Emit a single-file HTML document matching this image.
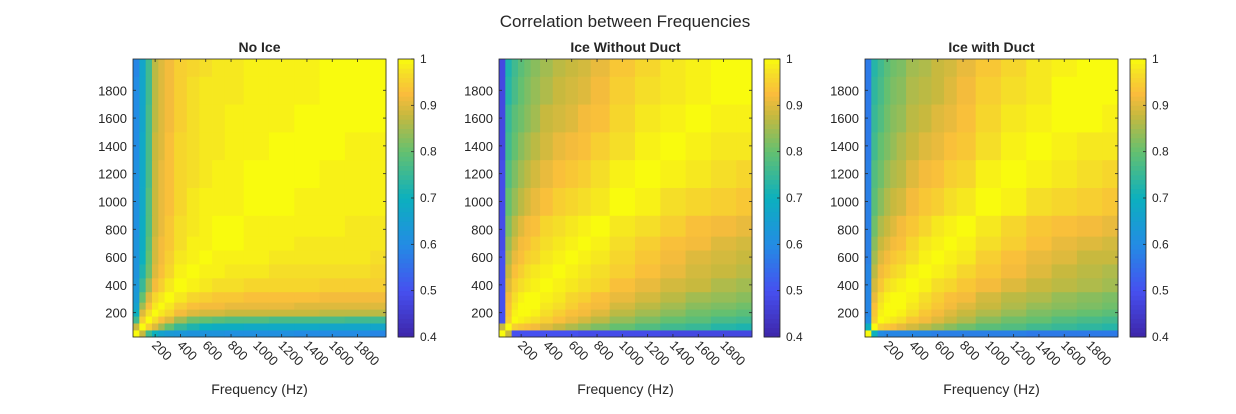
<!DOCTYPE html>
<html><head><meta charset="utf-8"><style>
body{margin:0;background:#fff;}
svg text{font-family:"Liberation Sans","DejaVu Sans",sans-serif;fill:#262626;}
</style></head><body>
<svg id="chart" width="1236" height="409" xmlns="http://www.w3.org/2000/svg">
<rect width="1236" height="409" fill="#fff"/>
<text x="625" y="27" font-size="17" text-anchor="middle">Correlation between Frequencies</text>
</svg>
<script>
// frequency bins (Hz)
const freqs = [50,100,150,200,250,300,400,500,600,700,800,1000,1200,1400,1600,1800,2000];
const xTicks = [200,400,600,800,1000,1200,1400,1600,1800];
const yTicks = [200,400,600,800,1000,1200,1400,1600,1800];
const cbTicks = [0.4,0.5,0.6,0.7,0.8,0.9,1];
const panelTitles = ["No Ice","Ice Without Duct","Ice with Duct"];
// lower-triangle correlation (x100), row i = freq i, cols 0..i
const noIce = [
[100],
[88,100],
[76,95,100],
[70,90,97,100],
[66,85,93,98,100],
[64,80,90,96,98,100],
[63,75,85,92,95,98,100],
[62,72,81,90,93,96,99,100],
[62,70,80,89,92,95,98,99,100],
[62,69,79,89,92,94,97,99,99,100],
[61,69,78,88,91,94,97,98,99,100,100],
[61,68,78,88,91,93,96,98,99,99,99,100],
[61,68,77,88,91,93,96,97,98,99,99,100,100],
[60,68,77,88,90,93,96,97,98,98,99,99,100,100],
[60,67,77,87,90,92,95,97,98,98,99,99,99,100,100],
[60,67,76,87,90,92,95,97,98,98,98,99,99,99,100,100],
[59,67,76,87,90,92,95,96,97,98,98,99,99,99,100,100,100]];
const iceNoDuct = [
[100],
[88,100],
[50,95,100],
[50,94,99,100],
[50,93,98,100,100],
[50,92,97,99,100,100],
[50,90,95,97,98,99,100],
[50,88,93,95,97,98,99,100],
[50,86,91,93,95,96,98,99,100],
[49,84,89,92,93,95,97,98,99,100],
[49,82,87,90,92,93,96,97,98,99,100],
[49,80,84,87,89,91,93,95,96,97,98,100],
[49,78,82,85,87,89,91,93,94,95,97,99,100],
[48,76,80,83,85,87,89,91,92,93,95,97,99,100],
[48,75,79,81,83,85,88,89,90,92,93,96,98,99,100],
[48,73,77,80,82,84,86,88,89,90,92,95,97,98,99,100],
[48,72,76,79,81,83,85,87,88,89,91,94,96,98,99,100,100]];
const iceDuct = [
[100],
[70,100],
[60,95,100],
[59,94,99,100],
[59,93,98,100,100],
[59,91,97,99,100,100],
[59,89,94,97,98,99,100],
[59,87,92,94,96,97,99,100],
[58,85,90,92,94,95,97,99,100],
[58,83,88,90,92,93,96,98,99,100],
[58,81,86,88,90,92,94,96,98,99,100],
[58,79,83,86,88,89,92,94,95,97,98,100],
[58,78,81,84,86,87,90,92,93,95,96,99,100],
[57,76,80,82,84,86,88,90,91,93,94,97,99,100],
[57,75,78,81,83,84,87,88,90,91,93,96,98,99,100],
[57,74,77,80,82,83,86,87,88,90,92,95,97,98,100,100],
[57,73,76,79,81,82,85,86,88,89,91,94,96,98,99,100,100]];
const panels = [noIce, iceNoDuct, iceDuct];

const NS="http://www.w3.org/2000/svg";
const svg=document.getElementById('chart');
function el(tag,attrs,parent){const e=document.createElementNS(NS,tag);for(const k in attrs)e.setAttribute(k,attrs[k]);(parent||svg).appendChild(e);return e;}
const stops=[[0,[62,38,168]],[0.167,[70,80,240]],[0.333,[35,140,228]],[0.5,[12,176,190]],[0.667,[100,192,112]],[0.8,[200,185,62]],[0.875,[250,188,60]],[0.95,[245,222,40]],[1,[249,251,14]]];
function parula(v){let t=(v-0.4)/0.6;t=Math.max(0,Math.min(1,t));
 for(let i=1;i<stops.length;i++){if(t<=stops[i][0]){const a=stops[i-1],b=stops[i];const u=(t-a[0])/(b[0]-a[0]);
 const c=a[1].map((x,k)=>Math.round(x+(b[1][k]-x)*u));return `rgb(${c[0]},${c[1]},${c[2]})`;}}return 'rgb(249,251,14)';}
const lefts=[133,499,865], W=253, TOP=59, H=278, FMIN=25, FMAX=2025;
const edges=[FMIN];for(let i=1;i<freqs.length;i++)edges.push((freqs[i-1]+freqs[i])/2);edges.push(FMAX);
function val(M,i,j){return (i>=j?M[i][j]:M[j][i])/100;}
panels.forEach((M,p)=>{
 const L=lefts[p];
 const sx=f=>L+(f-FMIN)/(FMAX-FMIN)*W;
 const sy=f=>TOP+H-(f-FMIN)/(FMAX-FMIN)*H;
 const g=el('g',{});
 
 
 for(let i=0;i<freqs.length;i++)for(let j=0;j<freqs.length;j++){
  const x0=sx(edges[j]),x1=sx(edges[j+1]),y0=sy(edges[i+1]),y1=sy(edges[i]);
  const r=el('rect',{x:x0,y:y0,width:x1-x0+0.4,height:y1-y0+0.4,fill:parula(val(M,i,j))},g);
  
  
 }
 const fr=el('rect',{x:L,y:TOP,width:W,height:H,fill:'none',stroke:'#262626','stroke-width':0.8});
 
 
 xTicks.forEach(t=>{const x=sx(t);
  el('line',{x1:x,x2:x,y1:TOP+H,y2:TOP+H-3,stroke:'#262626','stroke-width':0.8});
  el('line',{x1:x,x2:x,y1:TOP,y2:TOP+3,stroke:'#262626','stroke-width':0.8});
  const tx=el('text',{x:x-4,y:TOP+H+9,'font-size':13,transform:`rotate(45 ${x-4} ${TOP+H+9})`});
  tx.textContent=t;
  
  
 });
 yTicks.forEach(t=>{const y=sy(t);
  el('line',{x1:L,x2:L+3,y1:y,y2:y,stroke:'#262626','stroke-width':0.8});
  el('line',{x1:L+W,x2:L+W-3,y1:y,y2:y,stroke:'#262626','stroke-width':0.8});
  const tx=el('text',{x:L-6,y:y+5,'font-size':13,'text-anchor':'end'});
  tx.textContent=t;
  
  
 });
 const ti=el('text',{x:L+W/2,y:52,'font-size':14,'font-weight':'bold','text-anchor':'middle'});
 ti.textContent=panelTitles[p];
 
 
 const xl=el('text',{x:L+W/2,y:394,'font-size':14,'text-anchor':'middle'});
 xl.textContent='Frequency (Hz)';
 
 
 const cx=L+W+12, cw=16;
 const cb=el('g',{});
 
 
 const N=60;
 for(let k=0;k<N;k++){const v0=0.4+0.6*k/N;
  el('rect',{x:cx,y:TOP+H-(k+1)*H/N,width:cw,height:H/N+0.5,fill:parula(v0+0.3/N)},cb);}
 el('rect',{x:cx,y:TOP,width:cw,height:H,fill:'none',stroke:'#262626','stroke-width':0.8},cb);
 cbTicks.forEach(t=>{const y=TOP+H-(t-0.4)/0.6*H;
  el('line',{x1:cx+cw,x2:cx+cw-3,y1:y,y2:y,stroke:'#262626','stroke-width':0.8},cb);
  const tx=el('text',{x:cx+cw+6,y:y+4,'font-size':12},cb);
  tx.textContent=t;
  
  
 });
});
</script>
</body></html>
